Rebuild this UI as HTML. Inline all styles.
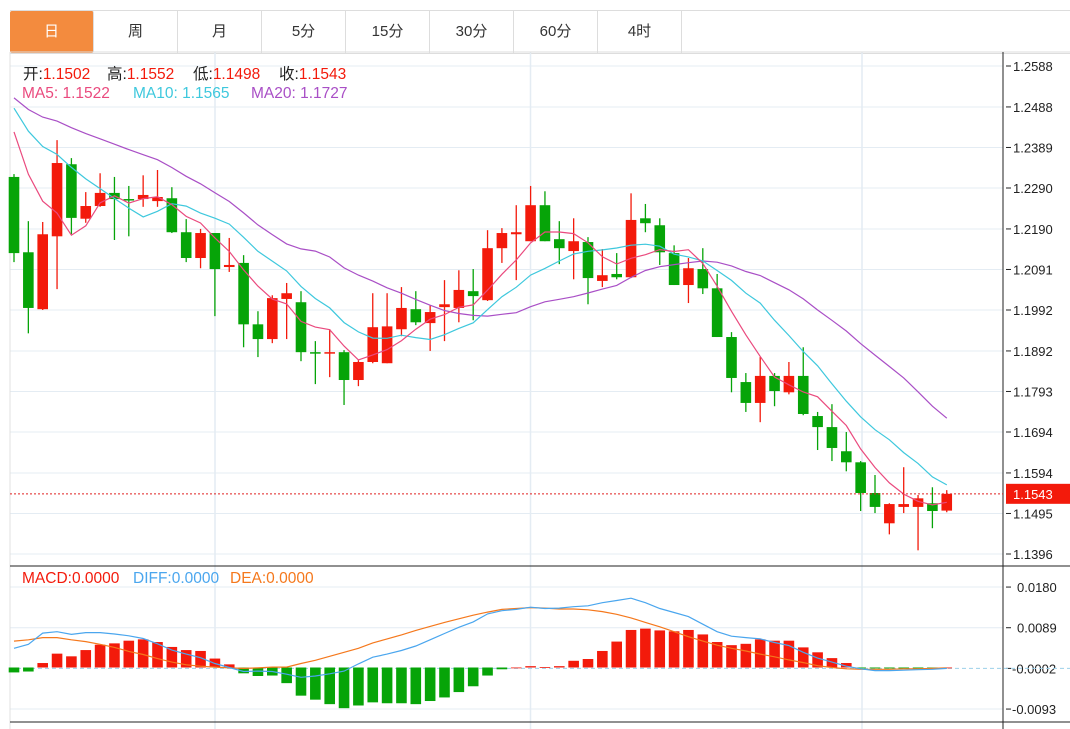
<!DOCTYPE html>
<html><head><meta charset="utf-8">
<style>
body{margin:0;background:#fff;width:1070px;height:729px;overflow:hidden;font-family:"Liberation Sans","Noto Sans CJK SC",sans-serif;}
.tabs{position:absolute;left:10px;top:10px;height:42px;display:flex;border-top:1px solid #ddd;border-bottom:1px solid #ddd;width:1060px;}
.tab{width:83px;border-right:1px solid #ddd;text-align:center;line-height:42px;font-size:15px;color:#333;}
.tab.on{background:#f38b3e;color:#fff;border-radius:2px;}
svg{position:absolute;left:0;top:0;}
.lg{position:absolute;font-size:15.5px;white-space:nowrap;}
.lg span{position:absolute;white-space:nowrap;}
</style></head><body>
<div class="tabs">
<div class="tab on">日</div>
<div class="tab">周</div>
<div class="tab">月</div>
<div class="tab">5分</div>
<div class="tab">15分</div>
<div class="tab">30分</div>
<div class="tab">60分</div>
<div class="tab">4时</div>
</div>
<svg id="c" width="1070" height="729"></svg>
<script>
const opens=[1.2317,1.2133,1.1994,1.2172,1.2348,1.2215,1.2246,1.2278,1.2263,1.2263,1.2258,1.2265,1.2182,1.2119,1.2180,1.2097,1.2107,1.1957,1.1921,1.2019,1.2011,1.1889,1.1887,1.1889,1.1821,1.1865,1.1862,1.1945,1.1994,1.1960,1.1999,1.1997,1.2038,1.2016,1.2143,1.2177,1.2160,1.2248,1.2165,1.2136,1.2158,1.2063,1.2080,1.2072,1.2216,1.2199,1.2131,1.2053,1.2092,1.2045,1.1926,1.1816,1.1765,1.1831,1.1791,1.1831,1.1733,1.1706,1.1647,1.1620,1.1545,1.1471,1.1511,1.1511,1.1520,1.1502];
const highs=[1.2324,1.2209,1.2207,1.2407,1.2363,1.2280,1.2326,1.2317,1.2295,1.2321,1.2334,1.2292,1.2214,1.2190,1.2180,1.2168,1.2126,1.1989,1.2028,1.2058,1.2038,1.1916,1.1945,1.1894,1.1869,1.2033,1.2033,1.2048,1.2038,1.2004,1.2065,1.2089,1.2092,1.2187,1.2192,1.2248,1.2295,1.2282,1.2209,1.2216,1.2170,1.2141,1.2131,1.2277,1.2251,1.2216,1.2150,1.2119,1.2143,1.2080,1.1938,1.1838,1.1877,1.1838,1.1865,1.1901,1.1743,1.1762,1.1694,1.1623,1.1589,1.1520,1.1608,1.1540,1.1559,1.1552];
const lows=[1.2109,1.1935,1.1992,1.2043,1.2177,1.2205,1.2244,1.2163,1.2172,1.2244,1.2244,1.2180,1.2109,1.2094,1.1977,1.2085,1.1901,1.1877,1.1911,1.1921,1.1867,1.1811,1.1828,1.1760,1.1806,1.1862,1.1862,1.1928,1.1955,1.1892,1.1916,1.1962,1.1967,1.2014,1.2107,1.2065,1.2160,1.2160,1.2104,1.2067,1.2006,1.2048,1.2067,1.2070,1.2182,1.2102,1.2053,1.2009,1.2031,1.1926,1.1791,1.1743,1.1718,1.1757,1.1786,1.1735,1.1650,1.1623,1.1598,1.1501,1.1496,1.1444,1.1496,1.1405,1.1459,1.1498];
const closes=[1.2131,1.1997,1.2177,1.2351,1.2217,1.2246,1.2278,1.2263,1.2261,1.2273,1.2268,1.2182,1.2119,1.2180,1.2092,1.2102,1.1957,1.1921,1.2021,1.2033,1.1889,1.1887,1.1889,1.1821,1.1865,1.1950,1.1952,1.1997,1.1962,1.1987,1.2006,1.2041,1.2026,1.2143,1.2180,1.2182,1.2248,1.2160,1.2143,1.2160,1.2070,1.2077,1.2072,1.2212,1.2204,1.2133,1.2053,1.2094,1.2045,1.1926,1.1826,1.1765,1.1831,1.1794,1.1831,1.1738,1.1706,1.1655,1.1620,1.1545,1.1511,1.1518,1.1518,1.1532,1.1501,1.1543];
const priorCloses=[1.2560,1.2550,1.2545,1.2540,1.2535,1.2530,1.2530,1.2525,1.2520,1.2515,1.2560,1.2550,1.2545,1.2535,1.2525,1.2515,1.2505,1.2495,1.2489];
const priceTicks=[1.2588,1.2488,1.2389,1.2290,1.2190,1.2091,1.1992,1.1892,1.1793,1.1694,1.1594,1.1495,1.1396];
const macdHist=[-0.0011,-0.0009,0.0010,0.0031,0.0025,0.0039,0.0051,0.0054,0.0060,0.0063,0.0057,0.0046,0.0039,0.0037,0.0020,0.0007,-0.0013,-0.0019,-0.0018,-0.0035,-0.0063,-0.0072,-0.0082,-0.0091,-0.0085,-0.0078,-0.0080,-0.0080,-0.0082,-0.0075,-0.0067,-0.0055,-0.0042,-0.0018,-0.0004,0.0000,0.0003,0.0001,0.0003,0.0015,0.0019,0.0037,0.0058,0.0084,0.0087,0.0083,0.0081,0.0084,0.0074,0.0057,0.0050,0.0053,0.0063,0.0060,0.0060,0.0045,0.0034,0.0021,0.0010,-0.0001,-0.0002,-0.0002,-0.0002,-0.0002,-0.0002,0.0000];
const diffVals=[0.0043,0.0052,0.0077,0.0080,0.0074,0.0078,0.0078,0.0075,0.0071,0.0065,0.0053,0.0039,0.0030,0.0022,0.0009,0.0000,-0.0009,-0.0008,-0.0009,-0.0015,-0.0022,-0.0019,-0.0014,-0.0008,0.0008,0.0023,0.0030,0.0038,0.0048,0.0062,0.0076,0.0090,0.0102,0.0120,0.0127,0.0130,0.0135,0.0132,0.0133,0.0136,0.0138,0.0145,0.0150,0.0155,0.0145,0.0132,0.0123,0.0114,0.0097,0.0080,0.0070,0.0067,0.0064,0.0056,0.0049,0.0034,0.0021,0.0012,0.0003,-0.0003,-0.0007,-0.0007,-0.0006,-0.0005,-0.0004,-0.0002];
const deaVals=[0.0059,0.0062,0.0067,0.0067,0.0062,0.0058,0.0052,0.0045,0.0036,0.0029,0.0020,0.0012,0.0006,0.0003,0.0001,-0.0001,-0.0002,-0.0001,0.0001,0.0001,0.0009,0.0016,0.0025,0.0034,0.0043,0.0055,0.0064,0.0073,0.0083,0.0092,0.0101,0.0109,0.0117,0.0124,0.0130,0.0132,0.0134,0.0133,0.0131,0.0131,0.0129,0.0125,0.0119,0.0111,0.0101,0.0091,0.0080,0.0069,0.0059,0.0050,0.0043,0.0037,0.0030,0.0024,0.0017,0.0011,0.0004,0.0000,-0.0003,-0.0004,-0.0004,-0.0004,-0.0003,-0.0003,-0.0002,-0.0001];
const macdTicks=[0.0180,0.0089,-0.0002,-0.0093];

const NS='http://www.w3.org/2000/svg';
const svg=document.getElementById('c');
const RED='#f31a0b',GRN='#06a408';
const X0=10,X1=1003,TOP=52,MID=566,BOT=722;
function xS(i){return 14+i*14.35;}
function yP(v){return 66+(1.2588-v)*4094;}
function yM(v){return 667.5-v*4469;}
function mk(tag,attrs,parent){const e=document.createElementNS(NS,tag);for(const k in attrs)e.setAttribute(k,attrs[k]);(parent||svg).appendChild(e);return e;}

const grid=mk('g',{});


priceTicks.forEach(v=>{mk('line',{x1:X0,x2:X1,y1:yP(v),y2:yP(v),stroke:'#e4ecf3','stroke-width':1},grid);});
macdTicks.forEach(v=>{if(Math.abs(v+0.0002)>1e-6)mk('line',{x1:X0,x2:X1,y1:yM(v),y2:yM(v),stroke:'#e4ecf3','stroke-width':1},grid);});
[215,530.5,862].forEach(x=>{mk('line',{x1:x,x2:x,y1:TOP,y2:729,stroke:'#e4ecf3','stroke-width':1.5},grid);});

mk('line',{x1:X0,x2:X0,y1:TOP,y2:729,stroke:'#e0e0e0'});
mk('line',{x1:X0,x2:1070,y1:TOP,y2:TOP,stroke:'#ddd'});
mk('line',{x1:X1,x2:X1,y1:TOP,y2:729,stroke:'#222'});
mk('line',{x1:X0,x2:1070,y1:MID,y2:MID,stroke:'#222'});
mk('line',{x1:X0,x2:1070,y1:BOT,y2:BOT,stroke:'#222'});

const ax=mk('g',{'font-size':13,fill:'#222','font-family':'Liberation Sans, sans-serif'});


priceTicks.forEach(v=>{const y=yP(v);mk('line',{x1:X1+3,x2:X1+8,y1:y,y2:y,stroke:'#222'},ax);const t=mk('text',{x:1013,y:y+5},ax);t.textContent=v.toFixed(4);});
const ax2=mk('g',{'font-size':13,fill:'#222','font-family':'Liberation Sans, sans-serif'});


macdTicks.forEach(v=>{const y=yM(v);mk('line',{x1:X1+3,x2:X1+8,y1:y,y2:y,stroke:'#222'},ax2);const t=mk('text',{x:v<0?1012:1017,y:y+5},ax2);t.textContent=v.toFixed(4);});

function ma(n){const all=priorCloses.concat(closes),off=priorCloses.length,out=[];for(let i=0;i<closes.length;i++){let s=0;for(let k=0;k<n;k++)s+=all[off+i-k];out.push(s/n);}return out;}
const cg=mk('g',{});


closes.forEach((c,i)=>{const o=opens[i],col=c>=o?RED:GRN,x=xS(i);
 const w=mk('line',{x1:x,x2:x,y1:yP(highs[i]),y2:yP(lows[i]),stroke:col,'stroke-width':1.3},cg);
 
 const top=yP(Math.max(o,c)),h=Math.max(1.5,Math.abs(yP(o)-yP(c)));
 const r=mk('rect',{x:x-5.3,y:top,width:10.6,height:h,fill:col},cg);
 
 
});
function line(vals,yf,col,name){const d=vals.map((v,i)=>(i?'L':'M')+xS(i).toFixed(1)+','+yf(v).toFixed(1)).join('');const p=mk('path',{d:d,fill:'none',stroke:col,'stroke-width':1.2});return p;}
line(ma(20),yP,'#a94fc6','ma20-line');
line(ma(10),yP,'#3ec8dd','ma10-line');
line(ma(5),yP,'#ea4a7e','ma5-line');

const lp=yP(closes[closes.length-1]);
const dl=mk('line',{x1:X0,x2:X1,y1:lp,y2:lp,stroke:'#e02020','stroke-dasharray':'2,2','stroke-width':1});

const lb=mk('rect',{x:1006,y:lp-10,width:64,height:20,fill:RED});


const lt=mk('text',{x:1013,y:lp+5,'font-size':13,fill:'#fff'});lt.textContent=closes[closes.length-1].toFixed(4);

mk('line',{x1:X0,x2:1070,y1:yM(-0.0002),y2:yM(-0.0002),stroke:'#9cd0ea','stroke-dasharray':'4,3'});
const mg=mk('g',{});


macdHist.forEach((v,i)=>{const y0=yM(0),y1=yM(v);const r=mk('rect',{x:xS(i)-5.3,y:Math.min(y0,y1),width:10.6,height:Math.max(0.8,Math.abs(y1-y0)),fill:v>=0?RED:GRN},mg);});
line(deaVals,yM,'#f5781c','dea-line');
line(diffVals,yM,'#4aa6ee','diff-line');
</script>
<div class="lg" style="left:0;top:62px;color:#222">
<span style="left:23px">开:<b style="font-weight:normal;color:#f31a0b">1.1502</b></span>
<span style="left:107px">高:<b style="font-weight:normal;color:#f31a0b">1.1552</b></span>
<span style="left:193px">低:<b style="font-weight:normal;color:#f31a0b">1.1498</b></span>
<span style="left:279px">收:<b style="font-weight:normal;color:#f31a0b">1.1543</b></span>
</div>
<div class="lg" style="left:0;top:85px">
<span style="left:22px;color:#ea4a7e">MA5: 1.1522</span>
<span style="left:133px;color:#3ec8dd">MA10: 1.1565</span>
<span style="left:251px;color:#a94fc6">MA20: 1.1727</span>
</div>
<div class="lg" style="left:0;top:570px">
<span style="left:22px;color:#f31a0b">MACD:0.0000</span>
<span style="left:133px;color:#4aa6ee">DIFF:0.0000</span>
<span style="left:230px;color:#f5781c">DEA:0.0000</span>
</div>
</body></html>
